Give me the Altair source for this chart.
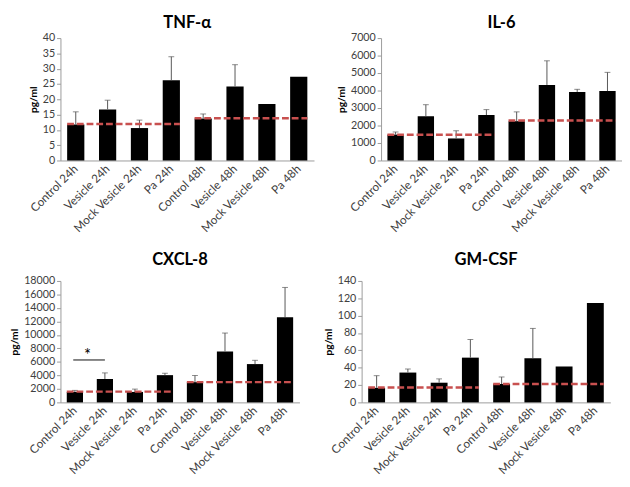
import altair as alt
import pandas as pd

categories = ["Control 24h", "Vesicle 24h", "Mock Vesicle 24h", "Pa 24h",
              "Control 48h", "Vesicle 48h", "Mock Vesicle 48h", "Pa 48h"]

tnf_mean = [11.8, 16.7, 10.6, 26.2, 13.7, 24.2, 18.5, 27.4]
tnf_err = [4.1, 3.0, 2.6, 7.7, 1.5, 7.1, None, None]
tnf_ref = [11.9, 13.8]

il6_mean = [1480, 2530, 1260, 2600, 2250, 4320, 3920, 3970]
il6_err = [150, 660, 440, 310, 530, 1380, 150, 1070]
il6_ref = [1470, 2290]

cxcl_mean = [1550, 3470, 1550, 4040, 3000, 7560, 5680, 12630]
cxcl_err = [230, 900, 420, 280, 990, 2720, 560, 4410]
cxcl_ref = [1600, 3000]
cxcl_sig = [6290]

gm_mean = [16.8, 34.4, 22.7, 51.6, 21.2, 50.9, 41.4, 114.7]
gm_err = [14.0, 4.1, 4.4, 20.9, 8.1, 34.4, None, None]
gm_ref = [17.2, 21.2]

group_start = ["Control 24h", "Control 48h"]
group_end = ["Pa 24h", "Pa 48h"]

FONT = "Lato"
xscale = alt.Scale(domain=categories, paddingInner=0.46, paddingOuter=0.21)


def panel(title, means, errs, refs, ymax, step, w, h, toff, sig=None):
    df = pd.DataFrame({"cat": categories, "mean": means,
                       "err": [float("nan") if e is None else e for e in errs]})
    df["top"] = df["mean"] + df["err"]
    edf = df.dropna(subset=["err"])
    yscale = alt.Scale(domain=[0, ymax], nice=False)
    yaxis = alt.Axis(values=list(range(0, ymax + 1, step)), format="d",
                     title="pg/ml", titleFont=FONT, titleFontSize=10.5,
                     titleFontWeight="bold", titleColor="black", titlePadding=4,
                     labelFont=FONT, labelFontSize=11, labelColor="#404040",
                     labelOverlap=False, labelFlush=False, labelPadding=2,
                     domainColor="#9a9a9a", tickColor="#9a9a9a", tickSize=4,
                     grid=False)
    x = alt.X("cat:N", sort=categories, scale=xscale, title=None,
              axis=alt.Axis(labelAngle=-45, labelAlign="right", labelBaseline="middle",
                            ticks=False, domainColor="#9a9a9a", labelFont=FONT,
                            labelFontSize=12, labelColor="#404040", labelPadding=6,
                            labelOverlap=False))
    bars = alt.Chart(df).mark_bar(color="black").encode(
        x=x, y=alt.Y("mean:Q", scale=yscale, axis=yaxis, title="pg/ml"))
    xs = alt.X("cat:N", sort=categories, scale=xscale, title=None)
    rules = alt.Chart(edf).mark_rule(color="#555555", strokeWidth=1).encode(
        x=xs, y=alt.Y("mean:Q", scale=yscale, axis=yaxis, title="pg/ml"), y2="top:Q")
    caps = alt.Chart(edf).mark_tick(color="#555555", thickness=1, size=6).encode(
        x=xs, y=alt.Y("top:Q", scale=yscale, axis=yaxis, title="pg/ml"))
    rdf = pd.DataFrame({"start": group_start, "end": group_end, "val": refs})
    ref = alt.Chart(rdf).mark_rule(color="#c8504f", strokeDash=[7, 3], strokeWidth=2.5).encode(
        x=alt.X("start:N", scale=xscale, title=None, bandPosition=0),
        x2=alt.X2("end:N", bandPosition=1),
        y=alt.Y("val:Q", scale=yscale, axis=yaxis, title="pg/ml"))
    layers = [bars, rules, caps, ref]
    if sig is not None:
        sdf = pd.DataFrame({"a": ["Control 24h"], "b": ["Vesicle 24h"], "v": sig, "s": ["*"]})
        layers.append(alt.Chart(sdf).mark_rule(color="#333333", strokeWidth=1.2).encode(
            x=alt.X("a:N", scale=xscale, title=None, bandPosition=0.4), x2="b:N",
            y=alt.Y("v:Q", scale=yscale, axis=yaxis, title="pg/ml")))
        layers.append(alt.Chart(sdf).mark_text(font=FONT, fontSize=17, color="black",
                                                baseline="alphabetic", dx=13, dy=1).encode(
            x=alt.X("a:N", scale=xscale, title=None),
            y=alt.Y("v:Q", scale=yscale, axis=yaxis, title="pg/ml"), text="s:N"))
    return alt.layer(*layers).properties(
        width=w, height=h,
        title=alt.TitleParams(title, font=FONT, fontSize=17, fontWeight="bold",
                              color="black", offset=toff))


tnf = panel("TNF-α", tnf_mean, tnf_err, tnf_ref, 40, 5, 261, 126, 0)
il6 = panel("IL-6", il6_mean, il6_err, il6_ref, 7000, 1000, 248, 126, 0)
cxcl = panel("CXCL-8", cxcl_mean, cxcl_err, cxcl_ref, 18000, 2000, 246, 125, 6, sig=cxcl_sig)
gm = panel("GM-CSF", gm_mean, gm_err, gm_ref, 140, 20, 256, 125, 6)

row1 = alt.hconcat(tnf, il6, spacing=23)
row2 = alt.hconcat(cxcl, gm, spacing=24)
chart = alt.vconcat(row1, row2, spacing=18).properties(
    padding={"left": 2, "top": 0, "right": 0, "bottom": 0}
).configure_view(stroke=None)

chart.save("out.html", embed_options={"renderer": "svg", "actions": False})
